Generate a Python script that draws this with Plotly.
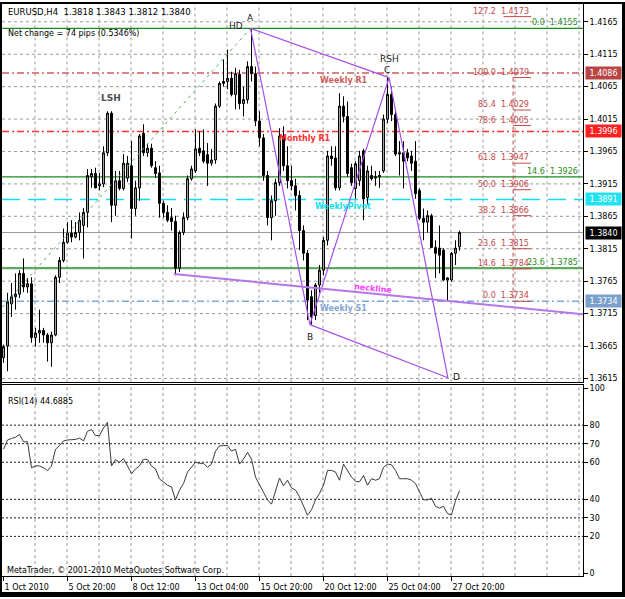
import plotly.graph_objects as go

# ---------------- data ----------------
bar_idx = list(range(115))
opens = [1.3647,1.3665,1.3730,1.3741,1.3745,1.3777,1.3756,1.3761,1.3678,1.3685,
         1.3689,1.3682,1.3670,1.3682,1.3771,1.3797,1.3825,1.3839,1.3833,1.3840,
         1.3851,1.3871,1.3926,1.3931,1.3912,1.3915,1.3963,1.4024,1.3882,1.3920,
         1.3908,1.3924,1.3943,1.3877,1.3909,1.3993,1.3963,1.3970,1.3940,1.3932,
         1.3885,1.3871,1.3863,1.3857,1.3785,1.3840,1.3863,1.3923,1.3935,1.3970,
         1.3966,1.3960,1.3947,1.3952,1.4035,1.4070,1.4073,1.4078,1.4053,1.4084,
         1.4039,1.4045,1.4096,1.4085,1.4012,1.3986,1.3928,1.3863,1.3889,1.3917,
         1.3989,1.3943,1.3920,1.3912,1.3897,1.3843,1.3808,1.3741,1.3712,1.3759,
         1.3782,1.3828,1.3958,1.3955,1.3909,1.4035,1.4019,1.3940,1.3908,1.3920,
         1.3966,1.3894,1.3928,1.3924,1.3926,1.3935,1.4015,1.4053,1.4022,1.3961,
         1.3963,1.3963,1.3958,1.3950,1.3905,1.3862,1.3856,1.3866,1.3817,1.3816,
         1.3813,1.3767,1.3767,1.3808,1.3818]
highs = [1.3667,1.3747,1.3762,1.3777,1.3782,1.3800,1.3770,1.3771,1.3693,1.3721,
         1.3693,1.3685,1.3687,1.3774,1.3802,1.3846,1.3856,1.3859,1.3856,1.3871,
         1.3878,1.3938,1.3938,1.3940,1.3932,1.3973,1.4027,1.4027,1.3935,1.3935,
         1.3961,1.3958,1.3981,1.3920,1.3992,1.4007,1.3977,1.3977,1.3950,1.3943,
         1.3889,1.3882,1.3878,1.3866,1.3843,1.3871,1.3928,1.3943,1.3999,1.3996,
         1.3999,1.3978,1.3969,1.4039,1.4073,1.4107,1.4122,1.4088,1.4094,1.4091,
         1.4065,1.4104,1.4155,1.4096,1.4027,1.3992,1.3935,1.3897,1.3923,1.4001,
         1.4004,1.3973,1.3943,1.3923,1.3905,1.3851,1.3813,1.3751,1.3762,1.3790,
         1.3833,1.3966,1.3973,1.3973,1.4055,1.4050,1.4042,1.3946,1.3950,1.3966,
         1.3969,1.3943,1.3943,1.3935,1.3935,1.4022,1.4079,1.4065,1.4030,1.3981,
         1.3981,1.3969,1.3966,1.3981,1.3908,1.3877,1.3874,1.3869,1.3828,1.3851,
         1.3816,1.3771,1.3810,1.3828,1.3843]
lows = [1.3639,1.3626,1.3710,1.3721,1.3739,1.3748,1.3747,1.3670,1.3664,1.3670,
        1.3670,1.3641,1.3633,1.3680,1.3762,1.3794,1.3823,1.3825,1.3831,1.3828,
        1.3800,1.3848,1.3909,1.3908,1.3905,1.3910,1.3958,1.3856,1.3866,1.3905,
        1.3905,1.3918,1.3831,1.3866,1.3889,1.3958,1.3957,1.3940,1.3924,1.3863,
        1.3863,1.3856,1.3843,1.3774,1.3779,1.3836,1.3859,1.3920,1.3932,1.3958,
        1.3947,1.3912,1.3943,1.3946,1.4032,1.4065,1.4061,1.4050,1.4030,1.4030,
        1.4019,1.4039,1.4073,1.4004,1.3973,1.3920,1.3851,1.3828,1.3866,1.3912,
        1.3935,1.3908,1.3905,1.3874,1.3813,1.3797,1.3705,1.3698,1.3705,1.3747,
        1.3774,1.3820,1.3943,1.3905,1.3905,1.4010,1.3926,1.3912,1.3892,1.3912,
        1.3859,1.3882,1.3920,1.3912,1.3909,1.3932,1.4009,1.4012,1.3958,1.3928,
        1.3908,1.3950,1.3935,1.3892,1.3859,1.3828,1.3840,1.3816,1.3770,1.3777,
        1.3765,1.3734,1.3764,1.3790,1.3812]
closes = [1.3664,1.3733,1.3741,1.3745,1.3777,1.3756,1.3761,1.3678,1.3685,1.3689,
          1.3682,1.3670,1.3682,1.3771,1.3797,1.3825,1.3839,1.3833,1.3840,1.3859,
          1.3871,1.3928,1.3931,1.3909,1.3915,1.3963,1.4024,1.3882,1.3920,1.3908,
          1.3947,1.3947,1.3877,1.3909,1.3989,1.3963,1.3970,1.3943,1.3931,1.3885,
          1.3871,1.3859,1.3857,1.3785,1.3840,1.3863,1.3923,1.3938,1.3969,1.3963,
          1.3950,1.3947,1.3952,1.4035,1.4070,1.4073,1.4078,1.4053,1.4085,1.4039,
          1.4045,1.4096,1.4085,1.4012,1.3986,1.3928,1.3863,1.3889,1.3917,1.3989,
          1.3943,1.3920,1.3912,1.3897,1.3843,1.3808,1.3736,1.3710,1.3759,1.3782,
          1.3828,1.3958,1.3954,1.3909,1.4035,1.4019,1.3931,1.3917,1.3946,1.3958,
          1.3892,1.3935,1.3923,1.3926,1.3928,1.4015,1.4053,1.4022,1.3961,1.3963,
          1.3950,1.3955,1.3947,1.3900,1.3862,1.3856,1.3866,1.3817,1.3808,1.3805,
          1.3767,1.3770,1.3808,1.3816,1.3840]
rsi = [67,72,72.8,73.5,75,71,71,57,58,58,
       57,55.5,58,67,69,71.5,72,72,72.3,73,
       71.5,76.7,77.6,74.4,74.4,78.5,81.5,58,61.4,60,
       62,58,53.8,56.4,58,61.7,61.4,58,56.4,51,
       49.4,47.6,46.7,39.7,45,48.5,54.7,57.3,60,59.4,
       59.4,57.3,59,66,68.8,69,69,66,67,59,
       61.7,65.3,61.7,52,47.6,43.2,39.7,37.4,44,51.5,
       47.3,50.3,46.2,45,41.4,36.2,31.4,34.4,39.7,43.2,
       47.6,55.6,55.6,54.7,50.3,59,55.6,52,49.7,49.4,
       52.9,47.6,51.1,50.3,51.1,57.3,59,58.6,55.6,51.1,
       51.1,51.1,50.3,48.5,44,39.7,39.7,40.6,36.2,35.3,
       36.2,32.3,31.7,39.2,44.6885]

xtick_idx = [0, 16, 32, 48, 64, 80, 96, 112]
xtick_text = ["1 Oct 2010", "5 Oct 20:00", "8 Oct 12:00", "13 Oct 04:00",
              "15 Oct 20:00", "20 Oct 12:00", "25 Oct 04:00", "27 Oct 20:00"]
grid_idx = [8 * k - 0.125 for k in range(1, 19)]
price_ticks = [1.3615, 1.3665, 1.3715, 1.3765, 1.3815, 1.3865, 1.3915,
               1.3965, 1.4015, 1.4065, 1.4115, 1.4165]
rsi_ticks = [0, 20, 30, 40, 60, 70, 80, 100]
rsi_levels = [20, 30, 40, 60, 70, 80]

level_names = ["Weekly R1", "Monthly R1", "WeeklyPivot", "Weekly S1"]
level_prices = [1.4086, 1.3996, 1.3891, 1.3734]
level_label_x = [78.6, 68.4, 77.4, 78.6]

green_fib_ratios = ["0.0", "14.6", "23.6"]
green_fib_prices = [1.4155, 1.3926, 1.3785]

red_fib_ratios = ["127.2", "100.0", "85.4", "78.6", "61.8", "50.0", "38.2", "23.6", "14.6", "0.0"]
red_fib_prices = [1.4173, 1.4079, 1.4029, 1.4005, 1.3947, 1.3906, 1.3866, 1.3815, 1.3784, 1.3734]
red_fib_x0 = [125.0, 127.4, 127.4, 127.4, 127.4, 127.4, 127.4, 127.4, 127.4, 127.4]
red_fib_x1 = 131.9

pattern_names = ["A", "B", "C", "D"]
pattern_x = [61.75, 76.6, 96.4, 111.1]
pattern_y = [1.4155, 1.3698, 1.4079, 1.3616]
neck_x = [42.6, 144.9]
neck_y = [1.3776, 1.3714]
hd_x = [-0.3, 61.75]
hd_y = [1.3725, 1.4155]
lsh_bar = 26
current_price = closes[-1]

# ---------------- styles ----------------
FONT = "DejaVu Sans"
GRID = "#9a9a9a"
GRID_DASH = "3px,3px"
PURPLE = "#a64ee8"
RED_FIB = "#c44848"
GREEN = "#1f8a1f"
level_colors = ["#cd5c5c", "#ff3030", "#10e0ee", "#7fa6d6"]
level_dash = ["7px,3px,2px,3px", "7px,3px,2px,3px", "18px,8px", "7px,3px,2px,3px"]
level_box = ["#b84444", "#ff2020", "#20e2f0", "#7a9fcc"]

W, H = 625, 599
def px(x):
    return x / W
def py(y):
    return 1 - y / H

fig = go.Figure()

# candles
fig.add_trace(go.Candlestick(
    x=bar_idx, open=opens, high=highs, low=lows, close=closes,
    increasing=dict(line=dict(color="black", width=1), fillcolor="#a8a8a8"),
    decreasing=dict(line=dict(color="black", width=1), fillcolor="black"),
    whiskerwidth=0, xaxis="x", yaxis="y", hoverinfo="skip"))

# pattern lines
pxs = [pattern_x[0], pattern_x[1], pattern_x[2], pattern_x[3], None,
       pattern_x[0], pattern_x[2], None, pattern_x[1], pattern_x[3]]
pys = [pattern_y[0], pattern_y[1], pattern_y[2], pattern_y[3], None,
       pattern_y[0], pattern_y[2], None, pattern_y[1], pattern_y[3]]
fig.add_trace(go.Scatter(x=pxs, y=pys, mode="lines", line=dict(color=PURPLE, width=1.2),
                         xaxis="x", yaxis="y", hoverinfo="skip"))
fig.add_trace(go.Scatter(x=neck_x, y=neck_y, mode="lines", line=dict(color="#b476ea", width=2),
                         xaxis="x", yaxis="y", hoverinfo="skip"))
fig.add_trace(go.Scatter(x=hd_x, y=hd_y, mode="lines",
                         line=dict(color="#5aaa5a", width=1, dash="3px,4px"),
                         xaxis="x", yaxis="y", hoverinfo="skip"))

# fib segments
fx, fy = [], []
for x0, p in zip(red_fib_x0, red_fib_prices):
    fx += [x0, red_fib_x1, None]
    fy += [p, p, None]
fig.add_trace(go.Scatter(x=fx, y=fy, mode="lines", line=dict(color=RED_FIB, width=1),
                         xaxis="x", yaxis="y", hoverinfo="skip"))
fig.add_trace(go.Scatter(x=[red_fib_x0[1], red_fib_x0[1]], y=[red_fib_prices[1], red_fib_prices[-1]],
                         mode="lines", line=dict(color=RED_FIB, width=1, dash="4px,3px"),
                         xaxis="x", yaxis="y", hoverinfo="skip"))

# RSI
fig.add_trace(go.Scatter(x=bar_idx, y=rsi, mode="lines", line=dict(color="#3a3a3a", width=1),
                         xaxis="x2", yaxis="y2", hoverinfo="skip"))

shapes = []
# grid
for g in grid_idx:
    shapes.append(dict(type="line", xref="x", yref="y domain", x0=g, x1=g, y0=0, y1=1,
                       line=dict(color=GRID, width=1, dash=GRID_DASH), layer="below"))
    shapes.append(dict(type="line", xref="x2", yref="y2 domain", x0=g, x1=g, y0=0, y1=1,
                       line=dict(color=GRID, width=1, dash=GRID_DASH), layer="below"))
for t in price_ticks:
    shapes.append(dict(type="line", xref="x domain", yref="y", x0=0, x1=1, y0=t, y1=t,
                       line=dict(color=GRID, width=1, dash=GRID_DASH), layer="below"))
# level lines
for p, c, d in zip(level_prices, level_colors, level_dash):
    shapes.append(dict(type="line", xref="x domain", yref="y", x0=0, x1=1, y0=p, y1=p,
                       line=dict(color=c, width=1.5, dash=d), layer="below"))
for p, w, c in zip(green_fib_prices, [1.2, 1.2, 2.2], [GREEN, GREEN, "#5fa85f"]):
    shapes.append(dict(type="line", xref="x domain", yref="y", x0=0, x1=1, y0=p, y1=p,
                       line=dict(color=c, width=w), layer="below"))
shapes.append(dict(type="line", xref="x domain", yref="y", x0=0, x1=1, y0=current_price, y1=current_price,
                   line=dict(color="#999999", width=1), layer="below"))
for lv in rsi_levels:
    shapes.append(dict(type="line", xref="x2 domain", yref="y2", x0=0, x1=1, y0=lv, y1=lv,
                       line=dict(color="#202020", width=1, dash="2px,2px"), layer="below"))
# outer frame
for x0, y0, x1, y1 in [(0, 0, W, 2), (0, 0, 2, H), (622, 0, W, H), (0, 594, W, H)]:
    shapes.append(dict(type="rect", xref="paper", yref="paper", x0=px(x0), x1=px(x1),
                       y0=py(y1), y1=py(y0), fillcolor="black", line=dict(width=0), layer="above"))

ann = []
def txt(x, y, t, color="black", xref="paper", yref="paper", xanchor="left", yanchor="middle",
        size=8, bold=False, **kw):
    ann.append(dict(x=x, y=y, xref=xref, yref=yref, text=("<b>%s</b>" % t) if bold else t,
                    showarrow=False, xanchor=xanchor, yanchor=yanchor,
                    font=dict(family=FONT, size=size, color=color), **kw))

txt(px(6), py(10), "EURUSD,H4&nbsp;&nbsp;%.4f&nbsp;%.4f&nbsp;%.4f&nbsp;%.4f" % (opens[-1], highs[-1], lows[-1], closes[-1]), size=8.5)
txt(px(6), py(32), "Net change = 74 pips (0.5346%)")
txt(px(6), py(402), "RSI(14) %.4f" % rsi[-1])
txt(px(5), py(572), "MetaTrader, © 2001-2010 MetaQuotes Software Corp.")

# level texts
for name, p, lx, c in zip(level_names, level_prices, level_label_x, level_colors):
    txt(lx, p, name, color=c, xref="x", yref="y", yanchor="top", bold=True, yshift=-1)
txt(92.4, 1.3753, "neckline", color="#ff3cff", xref="x", yref="y", xanchor="center", bold=True,
    textangle=5.7)

# fib texts
for r, p in zip(red_fib_ratios, red_fib_prices):
    txt(red_fib_x1, p, "%s&nbsp;&nbsp;%.4f" % (r, p), color=RED_FIB, xref="x", yref="y",
        xanchor="right", yanchor="bottom", yshift=-1)
for r, p in zip(green_fib_ratios, green_fib_prices):
    txt(0.995, p, "%s&nbsp;&nbsp;%.4f" % (r, p), color=GREEN, xref="x domain", yref="y",
        xanchor="right", yanchor="bottom", yshift=-1)

# pattern labels
shifts = {"A": (0, 10), "B": (0, -12), "C": (-2, 8), "D": (9, 1)}
for n, x, y in zip(pattern_names, pattern_x, pattern_y):
    dx, dy = shifts[n]
    txt(x, y, n, color="#202020", xref="x", yref="y", xanchor="center", xshift=dx, yshift=dy, size=9)
txt(pattern_x[0], pattern_y[0], "HD", color="#202020", xref="x", yref="y", xanchor="center",
    xshift=-15, yshift=2, size=9)
txt(pattern_x[2], pattern_y[2], "RSH", color="#202020", xref="x", yref="y", xanchor="center",
    xshift=0, yshift=19, size=9)
txt(lsh_bar, highs[lsh_bar], "LSH", color="#505050", xref="x", yref="y", xanchor="center",
    xshift=3, yshift=13, size=9, bold=True)

# right-axis price boxes
for p, bg in zip(level_prices + [current_price], level_box + ["black"]):
    ann.append(dict(x=px(585), y=p, xref="paper", yref="y", text="%.4f" % p, showarrow=False,
                    xanchor="left", yanchor="middle", bgcolor=bg, borderpad=1, width=33, height=10,
                    align="center", font=dict(family=FONT, size=8, color="white")))

axis_common = dict(showline=True, mirror=True, linecolor="black", linewidth=1, zeroline=False,
                   fixedrange=True, showgrid=False, tickfont=dict(family=FONT, size=8, color="black"))
fig.update_layout(
    width=W, height=H, margin=dict(l=0, r=0, t=0, b=0),
    paper_bgcolor="white", plot_bgcolor="white", showlegend=False,
    font=dict(family=FONT, size=8, color="black"),
    xaxis=dict(domain=[px(2), px(583)], range=[-0.375, 144.875], anchor="y",
               showticklabels=False, ticks="", rangeslider=dict(visible=False), **axis_common),
    yaxis=dict(domain=[py(383), py(2)], range=[1.36088, 1.41925], anchor="x", side="right",
               tickvals=price_ticks, ticktext=["%.4f" % t for t in price_ticks],
               ticks="outside", ticklen=4, tickcolor="black", **axis_common),
    xaxis2=dict(domain=[px(2), px(583)], range=[-0.375, 144.875], anchor="y2",
                tickvals=xtick_idx, ticktext=xtick_text, ticks="outside", ticklen=4,
                tickcolor="black", ticklabelposition="outside right", ticklabelstandoff=3,
                **axis_common),
    yaxis2=dict(domain=[py(578), py(386)], range=[-1.43, 101.43], anchor="x2", side="right",
                tickvals=rsi_ticks, ticks="outside", ticklen=4, tickcolor="black",
                **axis_common),
    shapes=shapes, annotations=ann,
)

fig.write_html("out.html")
